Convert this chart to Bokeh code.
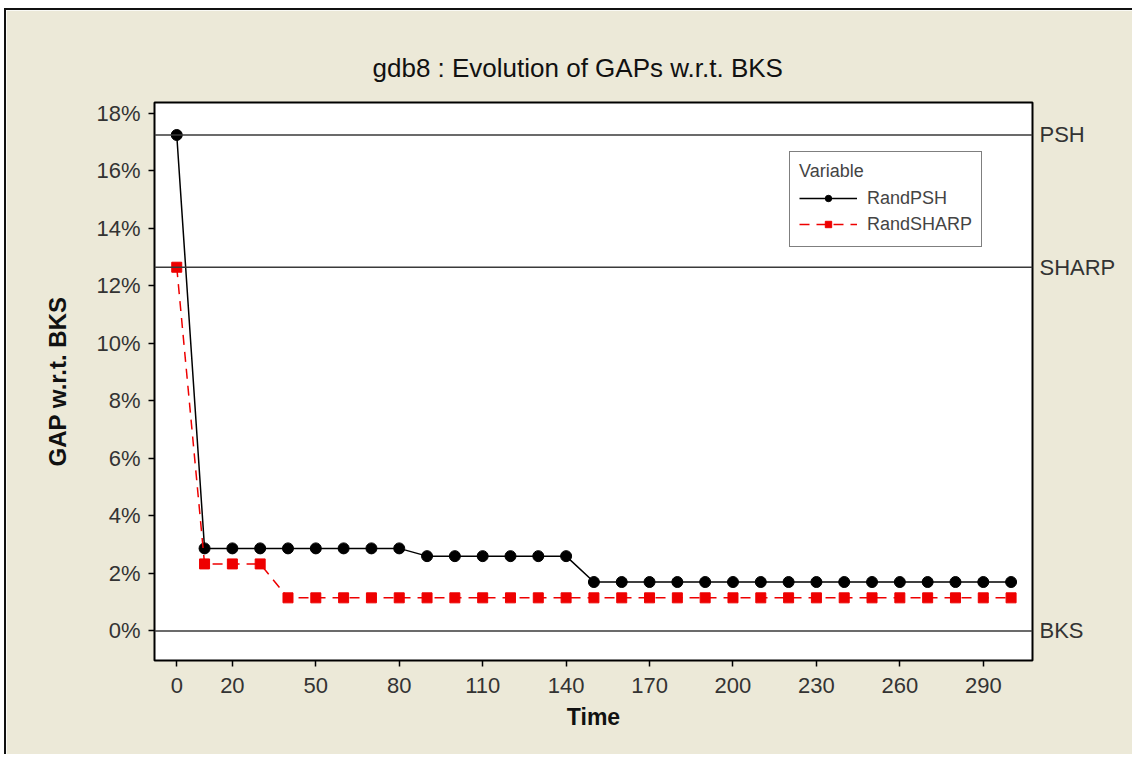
from bokeh.plotting import figure
from bokeh.models import (Span, Legend, LegendItem, FixedTicker, PrintfTickFormatter,
                          LinearAxis, CustomJSTickFormatter, ColumnDataSource)
from bokeh.embed import file_html
from bokeh.resources import INLINE

# ---- data ----
time = [0, 10, 20, 30, 40, 50, 60, 70, 80, 90, 100, 110, 120, 130, 140, 150,
        160, 170, 180, 190, 200, 210, 220, 230, 240, 250, 260, 270, 280, 290, 300]
rand_psh = [17.25, 2.87, 2.87, 2.87, 2.87, 2.87, 2.87, 2.87, 2.87,
            2.60, 2.60, 2.60, 2.60, 2.60, 2.60,
            1.70, 1.70, 1.70, 1.70, 1.70, 1.70, 1.70, 1.70, 1.70, 1.70,
            1.70, 1.70, 1.70, 1.70, 1.70, 1.70]
rand_sharp = [12.65, 2.33, 2.33, 2.33,
              1.15, 1.15, 1.15, 1.15, 1.15, 1.15, 1.15, 1.15, 1.15, 1.15,
              1.15, 1.15, 1.15, 1.15, 1.15, 1.15, 1.15, 1.15, 1.15, 1.15,
              1.15, 1.15, 1.15, 1.15, 1.15, 1.15, 1.15]
ref_names = ["PSH", "SHARP", "BKS"]
ref_values = [17.25, 12.65, 0.0]
x_ticks = [0, 20, 50, 80, 110, 140, 170, 200, 230, 260, 290]
y_ticks = [0, 2, 4, 6, 8, 10, 12, 14, 16, 18]

FONT = "Liberation Sans"
BG = "#ECE9D8"

src = ColumnDataSource(dict(time=time, psh=rand_psh, sharp=rand_sharp))

p = figure(width=1128, height=746, x_range=(-8, 307.7), y_range=(-1.03, 18.38),
           output_backend="svg", toolbar_location=None,
           min_border_left=148, min_border_right=102, min_border_top=92, min_border_bottom=96,
           background_fill_color="white", border_fill_color=BG,
           styles={"margin-left": "4px", "margin-top": "8px",
                   "border-top": "2px solid #111", "border-left": "2px solid #111"})

p.title.text = "gdb8 : Evolution of GAPs w.r.t. BKS"
p.title.align = "left"
p.title.offset = 218
p.title.text_font = FONT
p.title.text_font_size = "26px"
p.title.text_font_style = "normal"
p.title.text_color = "#111111"
p.title.standoff = 40

p.grid.visible = False
p.outline_line_color = "black"
p.outline_line_width = 2

# reference lines
for v in ref_values:
    p.add_layout(Span(location=v, dimension="width", line_color="#3a3a3a", line_width=1.5))

# series
l1 = p.line("time", "psh", source=src, line_color="black", line_width=1.5)
m1 = p.scatter("time", "psh", source=src, marker="circle", size=11,
               fill_color="black", line_color="black")
l2 = p.line("time", "sharp", source=src, line_color="#ee0000", line_width=1.5,
            line_dash="10 7")
m2 = p.scatter("time", "sharp", source=src, marker="square", size=10,
               fill_color="#ee0000", line_color="#ee0000")

# axes
for ax in (p.xaxis[0], p.yaxis[0]):
    ax.axis_line_color = None
    ax.major_tick_line_color = "black"
    ax.major_tick_line_width = 1.5
    ax.major_tick_out = 6
    ax.major_tick_in = 0
    ax.minor_tick_line_color = None
    ax.major_label_text_font = FONT
    ax.major_label_text_font_size = "22px"
    ax.major_label_text_color = "#333333"
    ax.axis_label_text_font = FONT
    ax.axis_label_text_font_style = "bold"
    ax.axis_label_text_color = "#111111"

p.xaxis.ticker = FixedTicker(ticks=x_ticks)
p.xaxis.axis_label = "Time"
p.xaxis.axis_label_text_font_size = "23px"
p.xaxis.major_label_standoff = 11
p.xaxis.axis_label_standoff = 8

p.yaxis.ticker = FixedTicker(ticks=y_ticks)
p.yaxis.formatter = PrintfTickFormatter(format="%d%%")
p.yaxis.axis_label = "GAP w.r.t. BKS"
p.yaxis.axis_label_text_font_size = "24px"
p.yaxis.major_label_standoff = 8
p.yaxis.axis_label_standoff = 22

right = LinearAxis(
    ticker=FixedTicker(ticks=ref_values),
    formatter=CustomJSTickFormatter(
        args=dict(vals=ref_values, names=ref_names),
        code="for (let i = 0; i < vals.length; i++) { if (Math.abs(tick - vals[i]) < 1e-6) return names[i]; } return '';"),
    axis_line_color=None, major_tick_line_color=None, minor_tick_line_color=None,
    major_tick_out=0, major_tick_in=0,
    major_label_standoff=7, major_label_text_font=FONT,
    major_label_text_font_size="22px", major_label_text_color="#333333")
p.add_layout(right, "right")

legend = Legend(items=[LegendItem(label="RandPSH", renderers=[l1, m1]),
                       LegendItem(label="RandSHARP", renderers=[l2, m2])],
                location=(635, 413), title="Variable",
                title_text_font=FONT, title_text_font_size="18px",
                title_text_font_style="normal", title_standoff=3,
                label_text_font=FONT, label_text_font_size="18px", label_standoff=10,
                glyph_width=58, glyph_height=16, label_height=26, spacing=0,
                padding=9, margin=0, border_line_color="black", border_line_width=1.5,
                background_fill_color="white", background_fill_alpha=1)
p.add_layout(legend)

open("out.html", "w").write(file_html(p, INLINE))
